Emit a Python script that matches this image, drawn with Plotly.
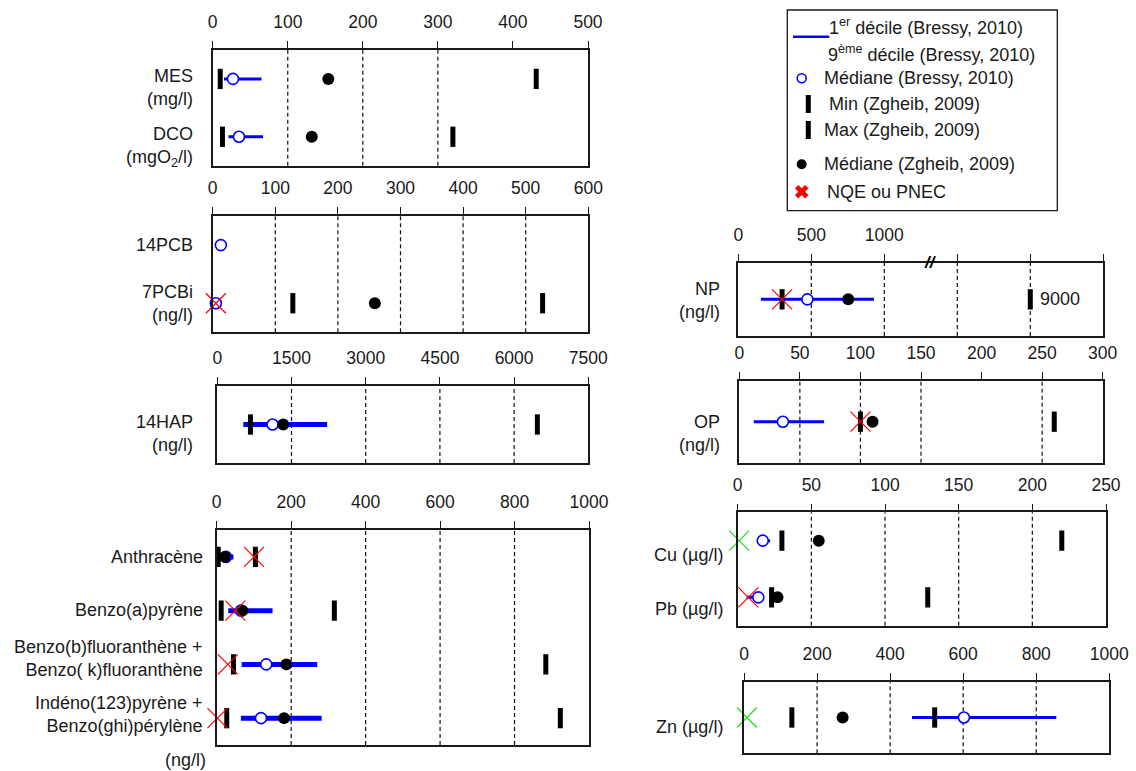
import plotly.graph_objects as go

W, H = 1136, 771

# ======================= DATA =======================
# Panel 1 : MES, DCO
p1_labels = ["MES<br>(mg/l)", "DCO<br>(mgO<sub>2</sub>/l)"]
p1_dec1 = [15, 21]
p1_dec9 = [65, 67]
p1_medB = [27, 35]
p1_min = [10, 13]
p1_max = [431, 320]
p1_medZ = [154, 132]
p1_nqe = [None, None]
p1_pnec = [None, None]
p1_ticks = [0, 100, 200, 300, 400, 500]

# Panel 2 : PCB
p2_labels = ["14PCB", "7PCBi<br>(ng/l)"]
p2_dec1 = [None, None]
p2_dec9 = [None, None]
p2_medB = [13, 5]
p2_min = [None, 128]
p2_max = [None, 527]
p2_medZ = [None, 259]
p2_nqe = [None, 5]
p2_pnec = [None, None]
p2_ticks = [0, 100, 200, 300, 400, 500, 600]

# Panel 3 : 14HAP
p3_labels = ["14HAP<br>(ng/l)"]
p3_dec1 = [525]
p3_dec9 = [2220]
p3_medB = [1118]
p3_min = [670]
p3_max = [6470]
p3_medZ = [1333]
p3_nqe = [None]
p3_pnec = [None]
p3_ticks = [0, 1500, 3000, 4500, 6000, 7500]

# Panel 4 : individual HAP
p4_labels = ["Anthracène", "Benzo(a)pyrène",
             "Benzo(b)fluoranthène +<br>Benzo( k)fluoranthène",
             "Indéno(123)pyrène +<br>Benzo(ghi)pérylène"]
p4_dec1 = [10, 31, 67, 65]
p4_dec9 = [45, 150, 270, 282]
p4_medB = [25, 65, 133, 119]
p4_min = [4, 12, 45, 27]
p4_max = [104, 316, 884, 923]
p4_medZ = [22, 69, 187, 181]
p4_nqe = [100, 50, 30, 2]
p4_pnec = [None, None, None, None]
p4_ticks = [0, 200, 400, 600, 800, 1000]

# Panel 5 : NP (broken axis, max = 9000)
p5_labels = ["NP<br>(ng/l)"]
p5_dec1 = [155]
p5_dec9 = [929]
p5_medB = [473]
p5_min = [300]
p5_max = [9000]
p5_medZ = [753]
p5_nqe = [300]
p5_pnec = [None]
p5_ticks = [0, 500, 1000, 1500, 2000, 2500]
p5_ticktext = ["0", "500", "1000", "", "", ""]

# Panel 6 : OP
p6_labels = ["OP<br>(ng/l)"]
p6_dec1 = [12]
p6_dec9 = [70]
p6_medB = [36]
p6_min = [100]
p6_max = [260]
p6_medZ = [110]
p6_nqe = [100]
p6_pnec = [None]
p6_ticks = [0, 50, 100, 150, 200, 250, 300]

# Panel 7 : Cu, Pb
p7_labels = ["Cu (µg/l)", "Pb (µg/l)"]
p7_dec1 = [15, 6]
p7_dec9 = [22, 16]
p7_medB = [17, 14]
p7_min = [30, 23]
p7_max = [220, 129]
p7_medZ = [55, 27]
p7_nqe = [None, 7.2]
p7_pnec = [1, None]
p7_ticks = [0, 50, 100, 150, 200, 250]

# Panel 8 : Zn
p8_labels = ["Zn (µg/l)"]
p8_dec1 = [460]
p8_dec9 = [855]
p8_medB = [602]
p8_min = [131]
p8_max = [522]
p8_medZ = [270]
p8_nqe = [None]
p8_pnec = [8]
p8_ticks = [0, 200, 400, 600, 800, 1000]

legend_texts = ["1<sup>er</sup> décile (Bressy, 2010)",
                "9<sup>ème</sup> décile (Bressy, 2010)",
                "Médiane (Bressy, 2010)",
                "Min (Zgheib, 2009)",
                "Max (Zgheib, 2009)",
                "Médiane (Zgheib, 2009)",
                "NQE ou PNEC"]

# ======================= STYLE / LAYOUT =======================
BLUE = "#0000FF"
LINE = "#1a1a1a"
RED = "#FF0000"
GREEN = "#22DD22"
FONT = "Liberation Sans, Arial, sans-serif"
TICKFONT = dict(family=FONT, size=17.5, color=LINE)
LABFONT = dict(family=FONT, size=18, color=LINE)
BAR = dict(symbol="line-ns", size=14.5, color="black", line=dict(color="black", width=5))

panels = [
    dict(k=1, data=(p1_labels, p1_dec1, p1_dec9, p1_medB, p1_min, p1_max, p1_medZ, p1_nqe, p1_pnec),
         box=(212.7, 50, 588, 165.7), rng=[0, 500], ticks=p1_ticks, ticktext=None,
         grid=[100, 200, 300], lw=3, labx=195, labshift=[-9, -10]),
    dict(k=2, data=(p2_labels, p2_dec1, p2_dec9, p2_medB, p2_min, p2_max, p2_medZ, p2_nqe, p2_pnec),
         box=(212.7, 216, 588.3, 332.3), rng=[0, 600], ticks=p2_ticks, ticktext=None,
         grid=[100, 200, 300, 400, 500], lw=3, labx=195, labshift=[0, 0]),
    dict(k=3, data=(p3_labels, p3_dec1, p3_dec9, p3_medB, p3_min, p3_max, p3_medZ, p3_nqe, p3_pnec),
         box=(217.3, 386, 588.3, 463), rng=[0, 7500], ticks=p3_ticks, ticktext=None,
         grid=[1500, 3000, 4500, 6000], lw=5, labx=195, labshift=[-9]),
    dict(k=4, data=(p4_labels, p4_dec1, p4_dec9, p4_medB, p4_min, p4_max, p4_medZ, p4_nqe, p4_pnec),
         box=(216.7, 530, 589, 745), rng=[0, 1000], ticks=p4_ticks, ticktext=None,
         grid=[200, 400, 600, 800], lw=5, labx=205, labshift=[0, 1, 6, 4]),
    dict(k=5, data=(p5_labels, p5_dec1, p5_dec9, p5_medB, p5_min, p5_max, p5_medZ, p5_nqe, p5_pnec),
         box=(738.3, 262.7, 1103.3, 336), rng=[0, 2500], ticks=p5_ticks, ticktext=p5_ticktext,
         grid=[500, 1000, 1500, 2000], lw=3, labx=722, labshift=[-1], maxaxis="x9"),
    dict(k=6, data=(p6_labels, p6_dec1, p6_dec9, p6_medB, p6_min, p6_max, p6_medZ, p6_nqe, p6_pnec),
         box=(739.3, 380.7, 1102.7, 462.7), rng=[0, 300], ticks=p6_ticks, ticktext=None,
         grid=[50, 100, 150, 250], lw=3, labx=722, labshift=[-12]),
    dict(k=7, data=(p7_labels, p7_dec1, p7_dec9, p7_medB, p7_min, p7_max, p7_medZ, p7_nqe, p7_pnec),
         box=(737.7, 512.3, 1106, 625.7), rng=[0, 250], ticks=p7_ticks, ticktext=None,
         grid=[50, 100, 150, 200], lw=3, labx=725, labshift=[-14, -12]),
    dict(k=8, data=(p8_labels, p8_dec1, p8_dec9, p8_medB, p8_min, p8_max, p8_medZ, p8_nqe, p8_pnec),
         box=(744, 681.7, 1109.3, 753.3), rng=[0, 1000], ticks=p8_ticks, ticktext=None,
         grid=[200, 400, 600, 800], lw=3, labx=725, labshift=[-9]),
]


def sfx(k):
    return "" if k == 1 else str(k)


fig = go.Figure()
layout = dict(width=W, height=H, autosize=False,
              margin=dict(l=0, r=0, t=0, b=0, pad=0, autoexpand=False),
              paper_bgcolor="white", plot_bgcolor="white", showlegend=False)
shapes = []
annotations = []


def pts(vals, rows):
    xs = [v for v in vals if v is not None]
    ys = [r for v, r in zip(vals, rows) if v is not None]
    return xs, ys


for cfg in panels:
    k = cfg["k"]
    xa, ya = "x" + sfx(k), "y" + sfx(k)
    labels, d1, d9, mB, mn, mx, mZ, nqe, pnec = cfg["data"]
    n = len(labels)
    rows = [n - 1 - i for i in range(n)]
    x0, y0, x1, y1 = cfg["box"]

    layout["xaxis" + sfx(k)] = dict(
        domain=[x0 / W, x1 / W], anchor=ya, side="top", range=cfg["rng"],
        tickmode="array", tickvals=cfg["ticks"],
        ticktext=cfg["ticktext"] if cfg["ticktext"] else [str(t) for t in cfg["ticks"]],
        ticks="outside", ticklen=7, tickwidth=1.3, tickcolor=LINE,
        showline=True, linecolor=LINE, linewidth=1.5, mirror=True,
        showgrid=False, zeroline=False, tickfont=TICKFONT, ticklabelstandoff=6,
        automargin=False, fixedrange=True)
    layout["yaxis" + sfx(k)] = dict(
        domain=[1 - y1 / H, 1 - y0 / H], anchor=xa, range=[-0.5, n - 0.5],
        showline=True, linecolor=LINE, linewidth=1.5, mirror=True,
        showticklabels=False, ticks="", showgrid=False, zeroline=False,
        automargin=False, fixedrange=True)

    for g in cfg["grid"]:
        shapes.append(dict(type="line", xref=xa, yref=ya + " domain", x0=g, x1=g, y0=0, y1=1,
                           line=dict(color="#111111", width=1.2, dash="4px,3px"), layer="below"))

    # decile range lines
    lx, ly = [], []
    for a, b, r in zip(d1, d9, rows):
        if a is not None and b is not None:
            lx += [a, b, None]
            ly += [r, r, None]
    if lx:
        fig.add_trace(go.Scatter(x=lx, y=ly, mode="lines", xaxis=xa, yaxis=ya,
                                 line=dict(color=BLUE, width=cfg["lw"]), cliponaxis=False,
                                 hoverinfo="skip"))
    # Bressy median
    xs, ys = pts(mB, rows)
    if xs:
        fig.add_trace(go.Scatter(x=xs, y=ys, mode="markers", xaxis=xa, yaxis=ya, cliponaxis=False,
                                 marker=dict(symbol="circle", size=11, color="white",
                                             line=dict(color=BLUE, width=1.6))))
    # Min bars
    xs, ys = pts(mn, rows)
    if xs:
        fig.add_trace(go.Scatter(x=xs, y=ys, mode="markers", xaxis=xa, yaxis=ya, cliponaxis=False,
                                 marker=BAR))
    # Max bars
    xs, ys = pts(mx, rows)
    if xs:
        fig.add_trace(go.Scatter(x=xs, y=ys, mode="markers",
                                 xaxis=cfg.get("maxaxis", xa), yaxis=ya, cliponaxis=False,
                                 marker=BAR))
    # Zgheib median
    xs, ys = pts(mZ, rows)
    if xs:
        fig.add_trace(go.Scatter(x=xs, y=ys, mode="markers", xaxis=xa, yaxis=ya, cliponaxis=False,
                                 marker=dict(symbol="circle", size=12, color="black")))
    # NQE / PNEC
    for vals, col in ((nqe, RED), (pnec, GREEN)):
        xs, ys = pts(vals, rows)
        if xs:
            fig.add_trace(go.Scatter(x=xs, y=ys, mode="markers", xaxis=xa, yaxis=ya, cliponaxis=False,
                                     marker=dict(symbol="x-thin", size=20, color=col,
                                                 line=dict(color=col, width=1.2))))
    # row labels
    for lab, r, sh in zip(labels, rows, cfg["labshift"]):
        annotations.append(dict(text=lab, xref="paper", x=cfg["labx"] / W, xanchor="right",
                                yref=ya, y=r, yanchor="middle", yshift=sh, align="right",
                                showarrow=False, font=LABFONT))

# NP broken-axis segment (values beyond the break, shifted by the break)
layout["xaxis9"] = dict(overlaying="x5", anchor="y5", range=[7000, 9500], visible=False,
                        automargin=False, fixedrange=True)
annotations.append(dict(text="9000", xref="x9", x=p5_max[0], xanchor="left", xshift=8,
                        yref="y5", y=0, yanchor="middle", showarrow=False, font=LABFONT))
annotations.append(dict(text="<b><i>//</i></b>", xref="x5", x=1313, yref="y5 domain", y=1,
                        yanchor="middle", xanchor="center", showarrow=False,
                        font=dict(family=FONT, size=17, color="black")))

# unit label below HAP panel
annotations.append(dict(text="(ng/l)", xref="paper", x=185 / W, xanchor="center",
                        yref="paper", y=1 - 760 / H, yanchor="middle", showarrow=False, font=LABFONT))

# ---------------- legend (manual) ----------------
LX0, LY0, LX1, LY1 = 787.3, 10, 1057.3, 210.7
shapes.append(dict(type="rect", xref="paper", yref="paper", x0=LX0 / W, x1=LX1 / W,
                   y0=1 - LY1 / H, y1=1 - LY0 / H, line=dict(color=LINE, width=1.3),
                   fillcolor="rgba(0,0,0,0)"))
layout["xaxis10"] = dict(domain=[LX0 / W, LX1 / W], anchor="y10", range=[LX0, LX1],
                         visible=False, automargin=False, fixedrange=True)
layout["yaxis10"] = dict(domain=[1 - LY1 / H, 1 - LY0 / H], anchor="x10", range=[LY1, LY0],
                         visible=False, automargin=False, fixedrange=True)
fig.add_trace(go.Scatter(x=[793, 829.3], y=[36.7, 36.7], mode="lines", xaxis="x10", yaxis="y10",
                         line=dict(color=BLUE, width=2.5), cliponaxis=False))
fig.add_trace(go.Scatter(x=[801.7], y=[78.3], mode="markers", xaxis="x10", yaxis="y10",
                         marker=dict(symbol="circle", size=9, color="white",
                                     line=dict(color=BLUE, width=1.6))))
fig.add_trace(go.Scatter(x=[808.3, 808.3], y=[104, 130], mode="markers", xaxis="x10", yaxis="y10",
                         marker=dict(symbol="line-ns", size=13, color="black",
                                     line=dict(color="black", width=5))))
fig.add_trace(go.Scatter(x=[801.7], y=[164.3], mode="markers", xaxis="x10", yaxis="y10",
                         marker=dict(symbol="circle", size=10, color="black")))
fig.add_trace(go.Scatter(x=[801.7], y=[191.7], mode="markers", xaxis="x10", yaxis="y10",
                         marker=dict(symbol="x", size=12, color=RED, line=dict(width=0))))
leg_pos = [(826.7, 26.7), (826, 53.3), (821.7, 78.3), (826.7, 104), (821.7, 130),
           (821.7, 164.3), (825, 191.7)]
for t, (lx, ly) in zip(legend_texts, leg_pos):
    annotations.append(dict(text=t, xref="paper", x=lx / W, xanchor="left",
                            yref="paper", y=1 - ly / H, yanchor="middle",
                            showarrow=False, font=LABFONT))

layout["shapes"] = shapes
layout["annotations"] = annotations
fig.update_layout(**layout)

POST = ("var s=document.createElement('style');"
        "s.innerHTML='html,body{margin:0;padding:0;overflow:hidden;width:%dpx;height:%dpx;}';"
        "document.head.appendChild(s);"
        "var gd=document.getElementById('{plot_id}');"
        "Plotly.relayout(gd,{width:%d,height:%d});" % (W, H, W, H))
fig.write_html("out.html", config={"displayModeBar": False, "responsive": False},
               post_script=POST)
